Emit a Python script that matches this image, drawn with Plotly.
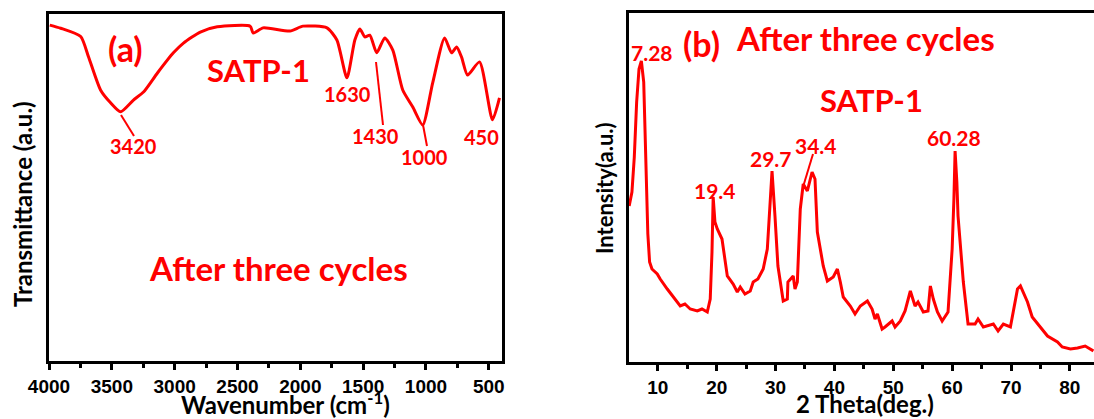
import plotly.graph_objects as go

# ---------------- FTIR data (panel a) ----------------
ftir_wavenumber = [3994, 3907, 3748, 3685, 3590, 3510, 3431, 3328, 3248, 3137, 3010, 2930,
                   2796, 2661, 2399, 2375, 2296, 2082, 1979, 1788, 1709, 1629, 1566, 1526,
                   1487, 1447, 1392, 1328, 1264, 1185, 1105, 1026, 947, 852, 796, 756, 717,
                   669, 574, 471, 415]
ftir_transmittance = [96.8, 95.9, 93.5, 87.6, 78.1, 74.4, 71.8, 75.2, 77.5, 83.0, 88.8, 91.6,
                      94.8, 96.3, 96.5, 94.5, 96.0, 95.1, 96.5, 96.0, 92.5, 81.6, 92.5, 95.7,
                      93.4, 93.9, 88.8, 93.1, 89.6, 78.1, 73.2, 68.0, 80.1, 93.1, 88.8, 90.5,
                      87.6, 82.4, 86.2, 69.5, 75.8]
ftir_ticks = [4000, 3500, 3000, 2500, 2000, 1500, 1000, 500]
ftir_peak_labels = ["3420", "1630", "1430", "1000", "450"]

# ---------------- XRD data (panel b) ----------------
xrd_two_theta = [5.13, 5.6, 6.0, 6.4, 6.8, 7.2, 7.6, 7.9, 8.1, 8.3, 8.6, 9.0, 9.9, 10.4,
                 11.6, 12.9, 13.8, 14.6, 15.5, 16.7, 17.5, 18.4, 18.9, 19.2, 19.4, 19.7,
                 20.1, 20.9, 21.8, 22.8, 23.5, 24.0, 24.8, 25.7, 26.2, 27.0, 27.9, 28.6,
                 29.1, 29.4, 29.9, 30.4, 31.3, 32.0, 32.1, 33.0, 33.3, 33.7, 34.2, 34.7,
                 35.4, 36.2, 36.7, 37.1, 38.1, 38.8, 39.8, 40.5, 41.0, 41.5, 42.7, 43.5,
                 44.4, 45.6, 46.4, 46.9, 47.3, 48.1, 48.6, 49.8, 50.3, 51.2, 52.0, 52.9,
                 53.7, 54.2, 55.1, 55.9, 56.3, 56.8, 57.5, 58.3, 59.3, 60.0, 60.3, 60.5,
                 60.8, 61.0, 61.9, 62.7, 63.9, 64.4, 65.3, 67.0, 67.8, 68.7, 69.9, 71.1,
                 71.6, 72.8, 73.6, 74.6, 76.2, 77.9, 78.7, 80.1, 81.3, 82.6, 84.0]
xrd_intensity = [156, 170, 205, 260, 293, 301, 280, 220, 165, 128, 100, 93, 88, 83,
                 73, 63, 56, 58, 53, 51, 53, 50, 63, 110, 165, 140,
                 133, 123, 86, 78, 70, 75, 68, 71, 80, 83, 93, 113,
                 156, 191, 146, 96, 61, 63, 80, 86, 73, 80, 153, 178,
                 171, 190, 183, 130, 96, 81, 85, 93, 80, 65, 56, 48,
                 56, 61, 53, 43, 48, 33, 35, 41, 35, 41, 51, 71,
                 56, 60, 50, 51, 76, 63, 50, 41, 50, 113, 163, 211,
                 180, 146, 80, 38, 38, 43, 35, 38, 31, 38, 35, 73,
                 76, 60, 45, 38, 26, 20, 15, 13, 14, 16, 11]
xrd_ticks = [10, 20, 30, 40, 50, 60, 70, 80]
xrd_peak_labels = ["7.28", "19.4", "29.7", "34.4", "60.28"]

RED = "#ff0000"
W, H = 1094, 419

def px(x):
    return x / W

def py(y):
    return 1 - y / H

fig = go.Figure()
fig.add_trace(go.Scatter(x=ftir_wavenumber, y=ftir_transmittance, mode="lines",
                         line=dict(color=RED, width=3, shape="spline", smoothing=0.6),
                         xaxis="x", yaxis="y", showlegend=False, hoverinfo="skip"))
fig.add_trace(go.Scatter(x=xrd_two_theta, y=xrd_intensity, mode="lines",
                         line=dict(color=RED, width=3),
                         xaxis="x2", yaxis="y2", showlegend=False, hoverinfo="skip"))

tickfont = dict(family="Liberation Sans", size=19, color="black", weight="bold")
axline = dict(showline=True, linecolor="black", linewidth=3, showgrid=False, zeroline=False,
              automargin=False)

fig.update_layout(
    width=W, height=H, margin=dict(l=0, r=0, t=0, b=0, pad=0, autoexpand=False),
    paper_bgcolor="white", plot_bgcolor="white",
    xaxis=dict(domain=[px(49), px(502)], range=[4000, 395], anchor="y",
               tickvals=ftir_ticks, ticktext=[str(t) for t in ftir_ticks],
               ticks="outside", ticklen=6, tickwidth=3, tickcolor="black",
               minor=dict(tickvals=[3750, 3250, 2750, 2250, 1750, 1250, 750],
                          ticks="outside", ticklen=4, tickwidth=3, tickcolor="black"),
               mirror=True, tickfont=tickfont, **axline),
    yaxis=dict(domain=[py(361), py(14)], range=[0, 100], anchor="x",
               showticklabels=False, ticks="", mirror=True, **axline),
    xaxis2=dict(domain=[px(629), 1.0], range=[5.1, 84.1], anchor="y2",
                tickvals=xrd_ticks, ticktext=[str(t) for t in xrd_ticks],
                ticks="outside", ticklen=6, tickwidth=3, tickcolor="black",
                minor=dict(tickvals=[15, 25, 35, 45, 55, 65, 75],
                           ticks="outside", ticklen=4, tickwidth=3, tickcolor="black"),
                mirror=True, tickfont=tickfont, **axline),
    yaxis2=dict(domain=[py(362), py(13)], range=[0, 349], anchor="x2",
                showticklabels=False, ticks="", mirror=False, **axline),
)

FONT = "Lato"

def note(text, x, y, size, color=RED, angle=0, family=FONT):
    fig.add_annotation(text="<b>" + text + "</b>", x=px(x), y=py(y), xref="paper", yref="paper",
                       showarrow=False, xanchor="center", yanchor="middle", textangle=angle,
                       font=dict(family=family, size=size, color=color))

def seg(x0, y0, x1, y1):
    fig.add_shape(type="line", xref="paper", yref="paper", x0=px(x0), y0=py(y0),
                  x1=px(x1), y1=py(y1), line=dict(color=RED, width=2))

# panel a texts
note("(a)", 125, 49, 34)
note("SATP-1", 258, 70, 31)
note(ftir_peak_labels[0], 133, 146, 20)
note(ftir_peak_labels[1], 347, 94, 20)
note(ftir_peak_labels[2], 375, 136, 20)
note(ftir_peak_labels[3], 424, 157, 20)
note(ftir_peak_labels[4], 481, 137, 20)
note("After three cycles", 278, 268, 33)
seg(121, 115, 134, 136)
seg(376, 62, 383, 125)
seg(423, 125, 427, 146)
note("Wavenumber (cm<sup>-1</sup>)", 285, 403, 24, color="black")
note("Transmittance (a.u.)", 22, 204, 24, color="black", angle=-90)

# panel b texts
note("(b)", 701, 43, 34)
note("After three cycles", 865, 38, 33)
note("SATP-1", 871, 100, 31)
note(xrd_peak_labels[0], 652, 53, 21)
note(xrd_peak_labels[1], 715, 190, 21)
note(xrd_peak_labels[2], 771, 158, 21)
note(xrd_peak_labels[3], 816, 145, 21)
note(xrd_peak_labels[4], 954, 138, 21)
seg(813, 154, 803, 187)
note("2 Theta(deg.)", 865, 403, 24, color="black")
note("Intensity(a.u.)", 604, 188, 22, color="black", angle=-90)

fig.write_html("out.html", config={"displayModeBar": False},
               post_script="document.body.style.margin='0';")
